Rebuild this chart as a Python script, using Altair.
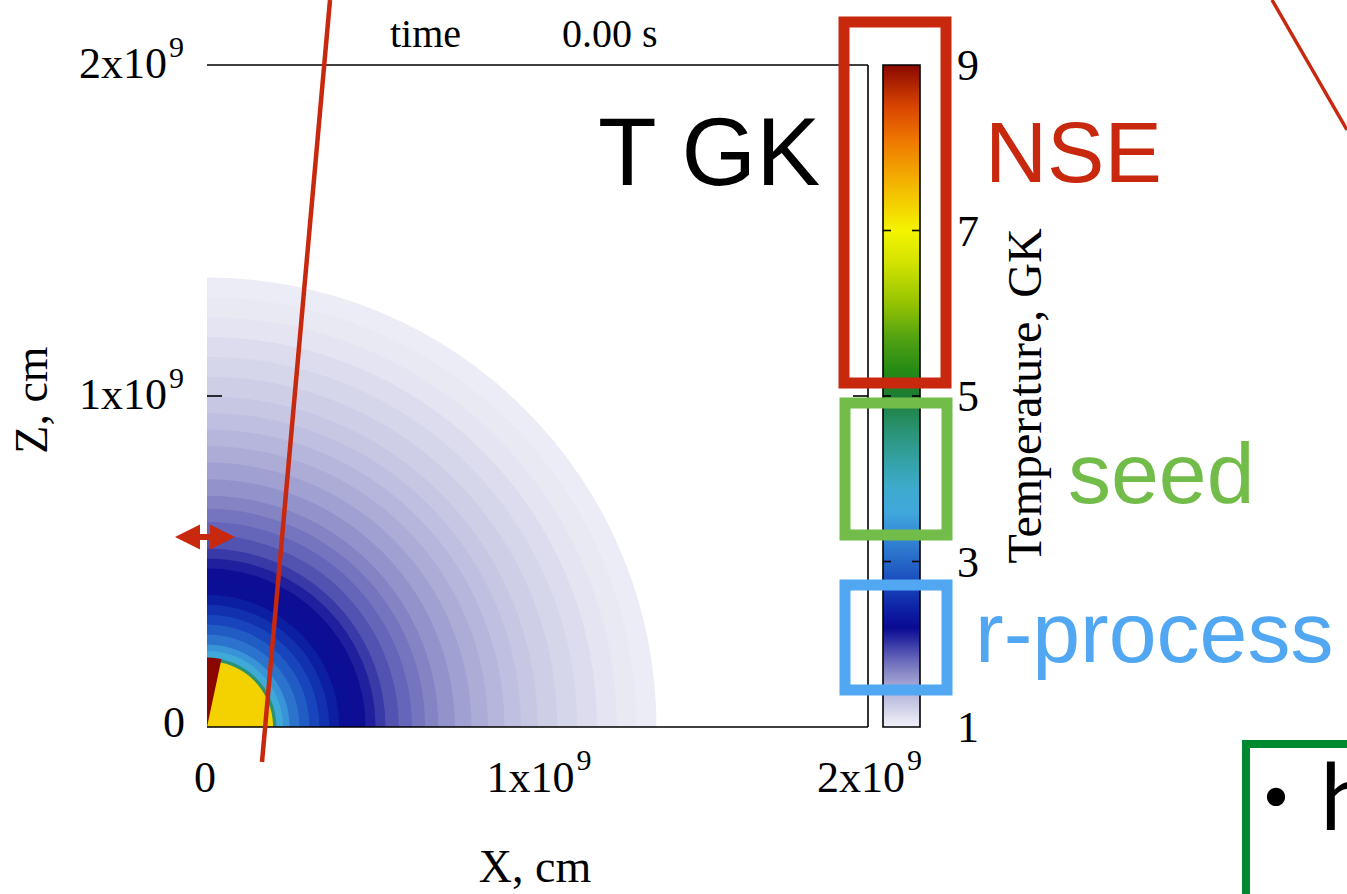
import math
import altair as alt
import pandas as pd

# ---------------- data ----------------
# radial temperature profile: outer radius of each band (1e9 cm) and temperature (GK)
ring_outer_radius = [0.20, 0.21, 0.23, 0.25, 0.28, 0.31, 0.34, 0.37, 0.40, 0.44,
                     0.48, 0.51, 0.54, 0.58, 0.62, 0.66, 0.70, 0.75, 0.80, 0.85,
                     0.90, 0.95, 1.00, 1.06, 1.12, 1.18, 1.24, 1.30, 1.36]
ring_temperature = [7.3, 4.6, 3.7, 3.4, 3.1, 2.9, 2.7, 2.55, 2.4, 2.25,
                    2.18, 2.1, 2.0, 1.9, 1.82, 1.75, 1.68, 1.6, 1.53, 1.46,
                    1.4, 1.34, 1.29, 1.24, 1.19, 1.15, 1.1, 1.06, 1.03]

# hot wedge along the z axis
wedge_outer_radius = [0.21]
wedge_temperature = [9.0]
wedge_angle = [0.21]  # radians measured from the z axis

# colour table of the temperature bar (GK -> colour)
cmap_temperature = [1.0, 1.1, 1.2, 1.35, 1.5, 1.65, 1.8, 1.95, 2.1, 2.2, 2.4, 2.7,
                    3.0, 3.3, 3.6, 3.9, 4.2, 4.6, 5.0, 5.3, 5.7, 6.1, 6.6, 7.0,
                    7.3, 7.7, 8.1, 8.5, 9.0]
cmap_color = ["#f0f0f8", "#e4e4f2", "#d4d4ea", "#bebee0", "#a6a6d4", "#8a8ac8",
              "#6a6abb", "#4646ac", "#20209e", "#0a0a92", "#0c1ea2", "#1844bc",
              "#2668c8", "#3488d4", "#40a8dc", "#3eaacc", "#34a2a8", "#2a9272",
              "#1c7c34", "#248a14", "#52a212", "#92c202", "#d2e200", "#f4f400",
              "#f4d200", "#f2a600", "#ee7600", "#d84400", "#8a0800"]

# axis tick labels
tick_values_sup = [1e9, 2e9]
tick_base_sup = ["1x10", "2x10"]
tick_sup = ["9", "9"]
tick_zero = [0.0]
tick_zero_text = ["0"]

# colour bar
cbar_label_values = [1, 3, 5, 7, 9]
cbar_inner_ticks = [3, 5, 7]

# ---------------- chart ----------------
W, H = 661, 662
SERIF = "Liberation Serif"
SANS = "Liberation Sans"
RED = "#c8280e"
GREEN = "#72bd4a"
BLUE = "#52a7f3"

xs = alt.Scale(domain=[0, 2e9], nice=False, zero=False)
ys = alt.Scale(domain=[0, 2e9], nice=False, zero=False)
rs = alt.Scale(type="linear", domain=[0, 2], range=[0, W], zero=True, nice=False)
cs = alt.Scale(domain=cmap_temperature, range=cmap_color, interpolate="rgb")
cbs = alt.Scale(domain=[1, 9], nice=False, zero=False)

rings_df = pd.DataFrame({"r": ring_outer_radius, "T": ring_temperature}).iloc[::-1].reset_index(drop=True)
wedge_df = pd.DataFrame({"r": wedge_outer_radius, "T": wedge_temperature})
one = pd.DataFrame({"i": [0]})

cx = alt.XDatum(0, type="quantitative", scale=xs, axis=None)
cy = alt.YDatum(0, type="quantitative", scale=ys, axis=None)

rings = alt.Chart(rings_df).mark_arc().encode(
    x=cx, y=cy,
    theta=alt.value(0), theta2=alt.value(math.pi / 2),
    radius=alt.Radius("r:Q", scale=rs, stack=None),
    color=alt.Color("T:Q", scale=cs, legend=None),
)
wedge = alt.Chart(wedge_df).mark_arc().encode(
    x=cx, y=cy,
    theta=alt.value(0), theta2=alt.value(wedge_angle[0]),
    radius=alt.Radius("r:Q", scale=rs, stack=None),
    color=alt.Color("T:Q", scale=cs, legend=None),
)

# frame (top, right, bottom) and inward ticks
frame_top = alt.Chart(one).mark_rule(color="black", strokeWidth=1.6).encode(
    x=alt.XDatum(0, scale=xs, axis=None), x2=alt.datum(2e9),
    y=alt.YDatum(2e9, scale=ys, axis=None))
frame_bottom = alt.Chart(one).mark_rule(color="black", strokeWidth=1.6).encode(
    x=alt.XDatum(0, scale=xs, axis=None), x2=alt.datum(2e9),
    y=alt.YDatum(0, scale=ys, axis=None))
frame_right = alt.Chart(one).mark_rule(color="black", strokeWidth=1.6).encode(
    x=alt.XDatum(2e9, scale=xs, axis=None),
    y=alt.YDatum(0, scale=ys, axis=None), y2=alt.datum(2e9))
tick_left = alt.Chart(one).mark_rule(color="black", strokeWidth=1.6).encode(
    x=alt.value(0), x2=alt.value(15), y=alt.YDatum(1e9, scale=ys, axis=None))
tick_right = alt.Chart(one).mark_rule(color="black", strokeWidth=1.6).encode(
    x=alt.value(W - 15), x2=alt.value(W), y=alt.YDatum(1e9, scale=ys, axis=None))

# tick labels (y)
ysup_df = pd.DataFrame({"v": tick_values_sup, "base": tick_base_sup, "sup": tick_sup})
yzero_df = pd.DataFrame({"v": tick_zero, "base": tick_zero_text})
ylab_base = alt.Chart(ysup_df).mark_text(
    align="right", baseline="alphabetic", dx=-40, dy=13, font=SERIF, fontSize=44, color="black"
).encode(x=alt.value(0), y=alt.Y("v:Q", scale=ys, axis=None), text="base:N")
ylab_sup = alt.Chart(ysup_df).mark_text(
    align="left", baseline="alphabetic", dx=-38, dy=-8, font=SERIF, fontSize=30, color="black"
).encode(x=alt.value(0), y=alt.Y("v:Q", scale=ys, axis=None), text="sup:N")
ylab_zero = alt.Chart(yzero_df).mark_text(
    align="right", baseline="alphabetic", dx=-22, dy=10, font=SERIF, fontSize=44, color="black"
).encode(x=alt.value(0), y=alt.Y("v:Q", scale=ys, axis=None), text="base:N")

# tick labels (x)
xlab_base = alt.Chart(ysup_df).mark_text(
    align="right", baseline="alphabetic", dx=37, dy=65, font=SERIF, fontSize=44, color="black"
).encode(y=alt.value(H), x=alt.X("v:Q", scale=xs, axis=None), text="base:N")
xlab_sup = alt.Chart(ysup_df).mark_text(
    align="left", baseline="alphabetic", dx=39, dy=43, font=SERIF, fontSize=30, color="black"
).encode(y=alt.value(H), x=alt.X("v:Q", scale=xs, axis=None), text="sup:N")
xlab_zero = alt.Chart(yzero_df).mark_text(
    align="center", baseline="alphabetic", dx=-2, dy=65, font=SERIF, fontSize=44, color="black"
).encode(y=alt.value(H), x=alt.X("v:Q", scale=xs, axis=None), text="base:N")

# axis titles and time stamp
def label(text, x, y, size, color="black", font=SERIF, align="left", angle=0):
    kw = dict(align=align, baseline="alphabetic", font=font, fontSize=size, color=color, text=text)
    if angle:
        kw["angle"] = angle
    return alt.Chart(one).mark_text(**kw).encode(x=alt.value(x), y=alt.value(y))

x_title = label("X, cm", 328, 817, 46, align="center")
z_title = label("Z, cm", -160, 335, 46, align="center", angle=270)
time_lbl = label("time", 183, -18, 40)
time_val = label("0.00 s", 355, -18, 40)
t_title = label("Temperature, GK", 834, 331, 48, align="center", angle=270)

main = alt.layer(rings, wedge, frame_top, frame_bottom, frame_right, tick_left, tick_right,
                 ylab_base, ylab_sup, ylab_zero, xlab_base, xlab_sup, xlab_zero,
                 x_title, z_title, time_lbl, time_val, t_title)

# ---------------- colour bar ----------------
grad = alt.LinearGradient(
    gradient="linear", x1=0, x2=0, y1=1, y2=0,
    stops=[alt.GradientStop(offset=(t - 1) / 8, color=c) for t, c in zip(cmap_temperature, cmap_color)],
)
CB_X1, CB_X2 = 676, 713
cbar_rect = alt.Chart(one).mark_rect(fill=grad, stroke="black", strokeWidth=1.6).encode(
    x=alt.value(CB_X1), x2=alt.value(CB_X2),
    y=alt.YDatum(1, type="quantitative", scale=cbs, axis=None), y2=alt.datum(9))
ticks_df = pd.DataFrame({"T": cbar_inner_ticks})
cbar_tick_l = alt.Chart(ticks_df).mark_rule(color="black", strokeWidth=1.6).encode(
    x=alt.value(CB_X1), x2=alt.value(CB_X1 + 8), y=alt.Y("T:Q", scale=cbs, axis=None))
cbar_tick_r = alt.Chart(ticks_df).mark_rule(color="black", strokeWidth=1.6).encode(
    x=alt.value(CB_X2 - 8), x2=alt.value(CB_X2), y=alt.Y("T:Q", scale=cbs, axis=None))
cbar_labels = alt.Chart(pd.DataFrame({"T": cbar_label_values})).mark_text(
    align="left", baseline="alphabetic", dy=15, font=SERIF, fontSize=44, color="black"
).encode(x=alt.value(750), y=alt.Y("T:Q", scale=cbs, axis=None), text="T:Q")

cbar = alt.layer(cbar_rect, cbar_tick_l, cbar_tick_r, cbar_labels)

# ---------------- slide annotations ----------------
def seg(x1, y1, x2, y2, color, w):
    return alt.Chart(one).mark_rule(color=color, strokeWidth=w).encode(
        x=alt.value(x1), y=alt.value(y1), x2=alt.value(x2), y2=alt.value(y2))

def box(x1, y1, x2, y2, color, w):
    return alt.Chart(one).mark_rect(filled=False, stroke=color, strokeWidth=w).encode(
        x=alt.value(x1), y=alt.value(y1), x2=alt.value(x2), y2=alt.value(y2))

def head(x, y, path):
    return alt.Chart(one).mark_point(shape=path, filled=True, size=625, color=RED, opacity=1,
                                     strokeWidth=0).encode(x=alt.value(x), y=alt.value(y))

annot = alt.layer(
    seg(123, -65, 55, 697, RED, 4.5),
    seg(1065, -65, 1140, 65, RED, 3.5),
    box(637, -43, 739, 318, RED, 11),
    box(638, 338, 740, 470, GREEN, 11),
    box(638, 520, 740, 625, BLUE, 11),
    box(1039, 679, 1200, 900, "#008a30", 8),
    seg(-8, 472, 8, 472, RED, 6),
    head(-19.5, 472, "M-1,0L1,-1L1,1Z"),
    head(15.5, 472, "M1,0L-1,-1L-1,1Z"),
    label("T GK", 391, 120, 96, font=SANS),
    label("NSE", 778, 117, 86, color=RED, font=SANS),
    label("seed", 861, 438, 86, color=GREEN, font=SANS),
    label("r-process", 768, 597, 86, color=BLUE, font=SANS),
    label("・h", 1026, 765, 86, font="Noto Sans CJK JP"),
)

chart = alt.layer(main, cbar, annot).resolve_scale(y="independent").properties(
    width=W, height=H,
    padding={"left": 207, "top": 65, "right": 479, "bottom": 167},
    autosize=alt.AutoSizeParams(type="none"),
    background="white",
).configure_view(strokeWidth=0)

chart.save("out.html", embed_options={"renderer": "svg", "actions": False})
